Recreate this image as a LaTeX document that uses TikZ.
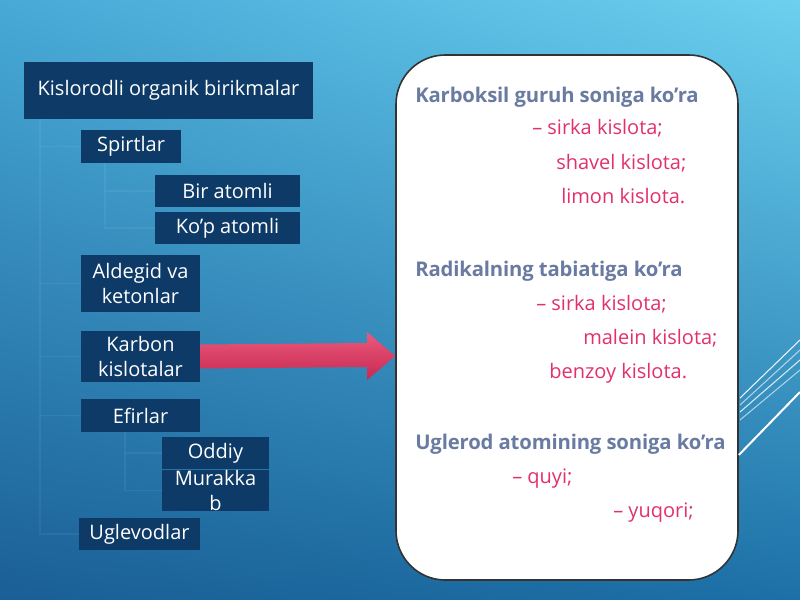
\documentclass[tikz,border=0pt]{standalone}
\usepackage{fontspec}
\setmainfont{Open Sans}
\usetikzlibrary{positioning,shadings}
\definecolor{navy}{HTML}{0D3A66}
\definecolor{headgray}{HTML}{6A7BA2}
\definecolor{itempink}{HTML}{E2306E}
\definecolor{bgul}{HTML}{47A9D6}
\definecolor{bgur}{HTML}{6CD0EF}
\definecolor{bgll}{HTML}{1A5F95}
\definecolor{bglr}{HTML}{1C70A7}
\definecolor{arrtop}{HTML}{EA5A7E}
\definecolor{arrbot}{HTML}{C8284F}
\begin{document}
\begin{tikzpicture}[x=0.75pt,y=-0.75pt,
  mbox/.style 2 args={fill=navy,text=white,inner sep=0pt,align=center,
    minimum width=#1*0.75pt,minimum height=#2*0.75pt,
    font=\fontsize{15}{18.5}\selectfont},
  head/.style={anchor=base west,inner sep=0pt,text=headgray,
    font=\bfseries\fontsize{15.2}{18}\selectfont\addfontfeature{LetterSpace=-0.7}},
  item/.style={anchor=base west,inner sep=0pt,text=itempink,
    font=\fontsize{15}{18}\selectfont},
  tline/.style={white,opacity=0.06,line width=1pt}]
  \useasboundingbox (0,0) rectangle (800,600);
  \shade[upper left=bgul,upper right=bgur,lower left=bgll,lower right=bglr]
    (0,0) rectangle (800,600);
  % boxes on the left
  \node[mbox={289}{57}] (KOB) at (168.5,90.5) {Kislorodli organik birikmalar};
  \node[mbox={100}{33}] (SP) at (131,146.5) {Spirtlar};
  \node[mbox={145}{32}] (BIR) at (227.5,191) {Bir atomli};
  \node[mbox={145}{32}] (KOP) at (227.5,228) {Ko’p atomli};
  \node[mbox={119}{57}] (ALD) at (140.5,283.5) {Aldegid va\\ketonlar};
  \node[mbox={119}{51}] (KAR) at (140.5,356.5) {Karbon\\kislotalar};
  \node[mbox={119}{33}] (EF) at (140.5,415.5) {Efirlar};
  \node[mbox={107}{32}] (OD) at (215.5,453) {Oddiy};
  \node[mbox={107}{33}] (MU) at (215.5,490.5) {Murakka\\b};
  \node[mbox={121}{32}] (UG) at (139.5,534) {Uglevodlar};
  % faint tree lines
  \coordinate (T1) at (40,119);
  \coordinate (T2) at (105,163);
  \coordinate (T3) at (125,432);
  \begin{scope}[tline]
    \draw (T1) |- (UG.west);
    \draw (T1 |- SP.west) -- (SP.west);
    \draw (T1 |- ALD.west) -- (ALD.west);
    \draw (T1 |- KAR.west) -- (KAR.west);
    \draw (T1 |- EF.west) -- (EF.west);
    \draw (T2) |- (KOP.west);
    \draw (T2 |- BIR.west) -- (BIR.west);
    \draw (T3) |- (MU.west);
    \draw (T3 |- OD.west) -- (OD.west);
  \end{scope}
  % white panel
  \node[draw=black!80,line width=1.2pt,fill=white,rounded corners=37pt,
    minimum width=342*0.75pt,minimum height=525*0.75pt,inner sep=0pt]
    (PAN) at (567,317.5) {};
  % block arrow
  \shade[top color=arrtop,bottom color=arrbot]
    ([yshift=9pt]KAR.east) -- (367,343) -- (367,332) -- (PAN.west |- 0,356)
    -- (367,380) -- (367,367) -- ([yshift=-9pt]KAR.east) -- cycle;
  % decoration lines on the right
  \draw[white,line width=1.5pt] (PAN.east |- 0,455) -- (800,392);
  \foreach \a/\b/\o in {398/340/0.9,405/350/0.6,412/360/0.8,420/370/0.6}
    \draw[white,opacity=\o,line width=0.8pt] (740,\a) -- (800,\b);
  % panel texts
  \node[head] (H1) at (415,102) {Karboksil guruh soniga ko’ra};
  \node[item] (A1) at (532,134) {– sirka kislota;};
  \node[item] (A2) at (556,169) {shavel kislota;};
  \node[item] (A3) at (561,203) {limon kislota.};
  \node[head] (H2) at (415,276) {Radikalning tabiatiga ko’ra};
  \node[item] (B1) at (536,310) {– sirka kislota;};
  \node[item] (B2) at (583,344) {malein kislota;};
  \node[item] (B3) at (549,378) {benzoy kislota.};
  \node[head] (H3) at (415,449) {Uglerod atomining soniga ko’ra};
  \node[item] (C1) at (512,483) {– quyi;};
  \node[item] (C2) at (613,517) {– yuqori;};
\end{tikzpicture}
\end{document}
